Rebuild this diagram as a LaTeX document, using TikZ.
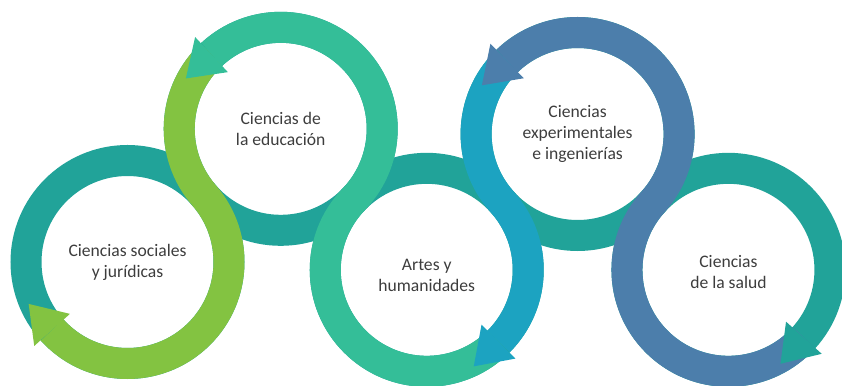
\documentclass[tikz,border=0pt]{standalone}
\usepackage{fontspec}
\setmainfont{Carlito}
\usetikzlibrary{calc}
\definecolor{baseteal}{HTML}{21A399}
\definecolor{bgreen}{HTML}{83C341}
\definecolor{bmint}{HTML}{34BE98}
\definecolor{bcyan}{HTML}{1CA3C1}
\definecolor{bsteel}{HTML}{4C7EAB}
\definecolor{txtgray}{HTML}{3D3D3D}
\begin{document}
\begin{tikzpicture}[x=1pt,y=1pt,
  ringbase/.style={draw=baseteal, line width=31pt},
  band/.style={line width=31pt, line cap=butt},
  ringtext/.style={text=txtgray, font=\fontsize{17.6}{21}\selectfont, align=center, inner sep=0pt}]
\useasboundingbox (0,0) rectangle (842,385);
\coordinate (C1) at (127.5,123);
\coordinate (C2) at ($(C1)+(41:203)$);
\coordinate (C3) at ($(C2)+(-44:203)$);
\coordinate (C4) at ($(C3)+(42:203)$);
\coordinate (C5) at ($(C4)+(-42:203)$);
% base rings
\foreach \c in {C1,C2,C3,C4,C5} \draw[ringbase] (\c) circle[radius=101.5];
% green band
\draw[band, draw=bgreen] ($(C2)+(133:101.5)$) arc[start angle=133, end angle=221, radius=101.5]
  arc[start angle=41, end angle=-138, radius=101.5];
\fill[bgreen] ($(C1)+(-138:125.5)$) -- ($(C1)+(-138:101.5)+(-228:35)$) -- ($(C1)+(-138:77.5)$) -- cycle;
% mint band
\draw[band, draw=bmint] ($(C3)+(-45:101.5)$) arc[start angle=-45, end angle=-224, radius=101.5]
  arc[start angle=-44, end angle=133, radius=101.5];
\fill[bmint] ($(C2)+(133:125.5)$) -- ($(C2)+(133:101.5)+(223:35)$) -- ($(C2)+(133:77.5)$) -- cycle;
% cyan band
\draw[band, draw=bcyan] ($(C4)+(134:101.5)$) arc[start angle=134, end angle=222, radius=101.5]
  arc[start angle=42, end angle=-45, radius=101.5];
\fill[bcyan] ($(C3)+(-45:125.5)$) -- ($(C3)+(-45:101.5)+(-135:35)$) -- ($(C3)+(-45:77.5)$) -- cycle;
% steel band
\draw[band, draw=bsteel] ($(C5)+(-42:101.5)$) arc[start angle=-42, end angle=-222, radius=101.5]
  arc[start angle=-42, end angle=134, radius=101.5];
\fill[bsteel] ($(C4)+(134:125.5)$) -- ($(C4)+(134:101.5)+(224:35)$) -- ($(C4)+(134:77.5)$) -- cycle;
% teal arrowhead on ring 5
\fill[baseteal] ($(C5)+(-42:125.5)$) -- ($(C5)+(-42:101.5)+(-132:35)$) -- ($(C5)+(-42:77.5)$) -- cycle;
% labels
\node[ringtext] (t1) at (C1) {Ciencias sociales\\y jurídicas};
\node[ringtext] (t2) at (C2) {Ciencias de\\la educación};
\node[ringtext] (t3) at ($(C3)+(0,-6)$) {Artes y\\humanidades};
\node[ringtext] (t4) at (C4) {Ciencias\\experimentales\\e ingenierías};
\node[ringtext] (t5) at ($(C5)+(0,-2)$) {Ciencias\\de la salud};
\end{tikzpicture}
\end{document}
